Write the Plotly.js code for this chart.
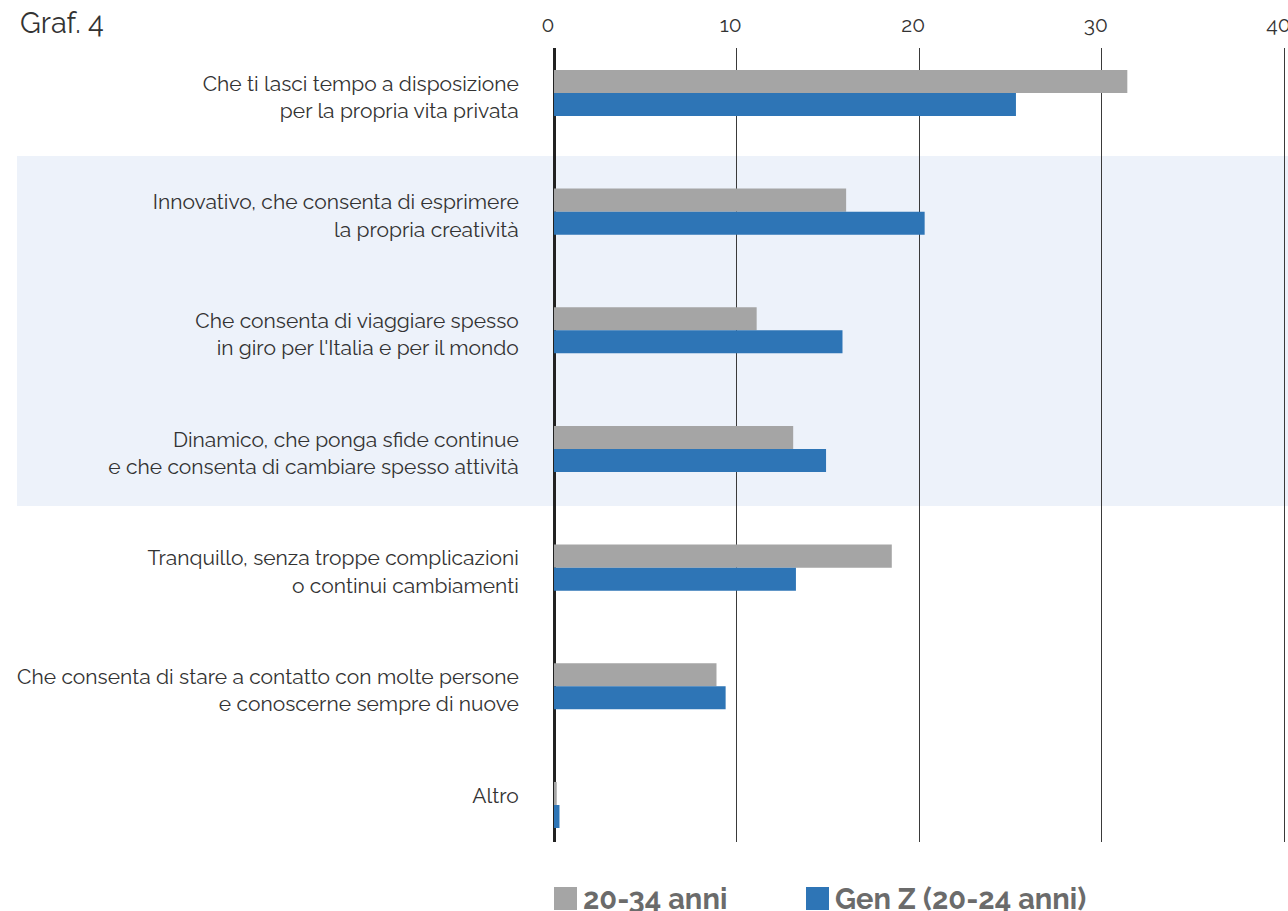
<!DOCTYPE html>
<html>
<head>
<meta charset="utf-8">
<script src="https://cdn.plot.ly/plotly-3.0.1.min.js"></script>
<style>html,body{margin:0;padding:0;background:#fff;}#chart{width:1288px;height:911px;}</style>
</head>
<body>
<div id="chart"></div>
<script>
const categories = [
  "Che ti lasci tempo a disposizione<br>per la propria vita privata",
  "Innovativo, che consenta di esprimere<br>la propria creatività",
  "Che consenta di viaggiare spesso<br>in giro per l'Italia e per il mondo",
  "Dinamico, che ponga sfide continue<br>e che consenta di cambiare spesso attività",
  "Tranquillo, senza troppe complicazioni<br>o continui cambiamenti",
  "Che consenta di stare a contatto con molte persone<br>e conoscerne sempre di nuove",
  "Altro<br>\u00a0"
];
const seriesNames = ["20-34 anni", "Gen Z (20-24 anni)"];
const values2034 = [31.4, 16.0, 11.1, 13.1, 18.5, 8.9, 0.15];
const valuesGenZ = [25.3, 20.3, 15.8, 14.9, 13.25, 9.4, 0.3];
const xTicks = [0, 10, 20, 30, 40];
const chartTitle = "Graf. 4";

const colors = ["#A5A5A5", "#2E75B6"];
const FONT = "Raleway, Lato, 'Open Sans', sans-serif";

const traces = [
  {type: "bar", orientation: "h", name: seriesNames[0], y: categories, x: values2034,
   marker: {color: colors[0]}, hoverinfo: "skip"},
  {type: "bar", orientation: "h", name: seriesNames[1], y: categories, x: valuesGenZ,
   marker: {color: colors[1]}, hoverinfo: "skip"}
];

const layout = {
  width: 1288, height: 911,
  margin: {l: 554, r: 0, t: 48, b: 69, pad: 0},
  paper_bgcolor: "#ffffff", plot_bgcolor: "rgba(0,0,0,0)",
  barmode: "group", bargap: 0.612, bargroupgap: 0,
  showlegend: false,
  font: {family: FONT, color: "#333333"},
  xaxis: {
    side: "top", range: [0, 40.2], tickvals: xTicks, ticktext: xTicks.map(String),
    showgrid: true, gridcolor: "#3a3a3a", gridwidth: 1,
    zeroline: true, zerolinecolor: "#222222", zerolinewidth: 3,
    showline: false, ticks: "outside", ticklen: 7, tickcolor: "rgba(0,0,0,0)",
    ticklabeloverflow: "allow", ticklabelshift: -6,
    tickfont: {size: 21, color: "#333333", family: FONT},
    fixedrange: true
  },
  yaxis: {
    type: "category", range: [6.312, -0.379],
    showgrid: false, zeroline: false, showline: false,
    ticks: "outside", ticklen: 30, tickcolor: "rgba(0,0,0,0)",
    ticklabelshift: -4,
    tickfont: {size: 21, color: "#333333", family: FONT},
    fixedrange: true
  },
  shapes: [
    {type: "rect", xref: "paper", yref: "paper", x0: (17-554)/734, x1: (1288-554)/734,
     y0: (842-506)/794, y1: (842-156)/794, fillcolor: "#EDF2FA", line: {width: 0}, layer: "below"},
    {type: "rect", xref: "paper", yref: "paper", x0: 0, x1: 23/734,
     y0: (842-910)/794, y1: (842-887)/794, fillcolor: colors[0], line: {width: 0}},
    {type: "rect", xref: "paper", yref: "paper", x0: 252/734, x1: 275/734,
     y0: (842-910)/794, y1: (842-887)/794, fillcolor: colors[1], line: {width: 0}}
  ],
  annotations: [
    {text: chartTitle, xref: "paper", yref: "paper", x: (18-554)/734, y: (842-23)/794,
     xanchor: "left", yanchor: "middle", showarrow: false,
     font: {size: 29, color: "#333333", family: FONT}},
    {text: "<b>" + seriesNames[0] + "</b>", xref: "paper", yref: "paper", x: (581-554)/734, y: (842-899)/794,
     xanchor: "left", yanchor: "middle", showarrow: false,
     font: {size: 29, color: "#6b6b6b", family: FONT}},
    {text: "<b>" + seriesNames[1] + "</b>", xref: "paper", yref: "paper", x: (833-554)/734, y: (842-899)/794,
     xanchor: "left", yanchor: "middle", showarrow: false,
     font: {size: 29, color: "#6b6b6b", family: FONT}}
  ]
};

Plotly.newPlot("chart", traces, layout, {staticPlot: true, displayModeBar: false});
</script>
</body>
</html>
